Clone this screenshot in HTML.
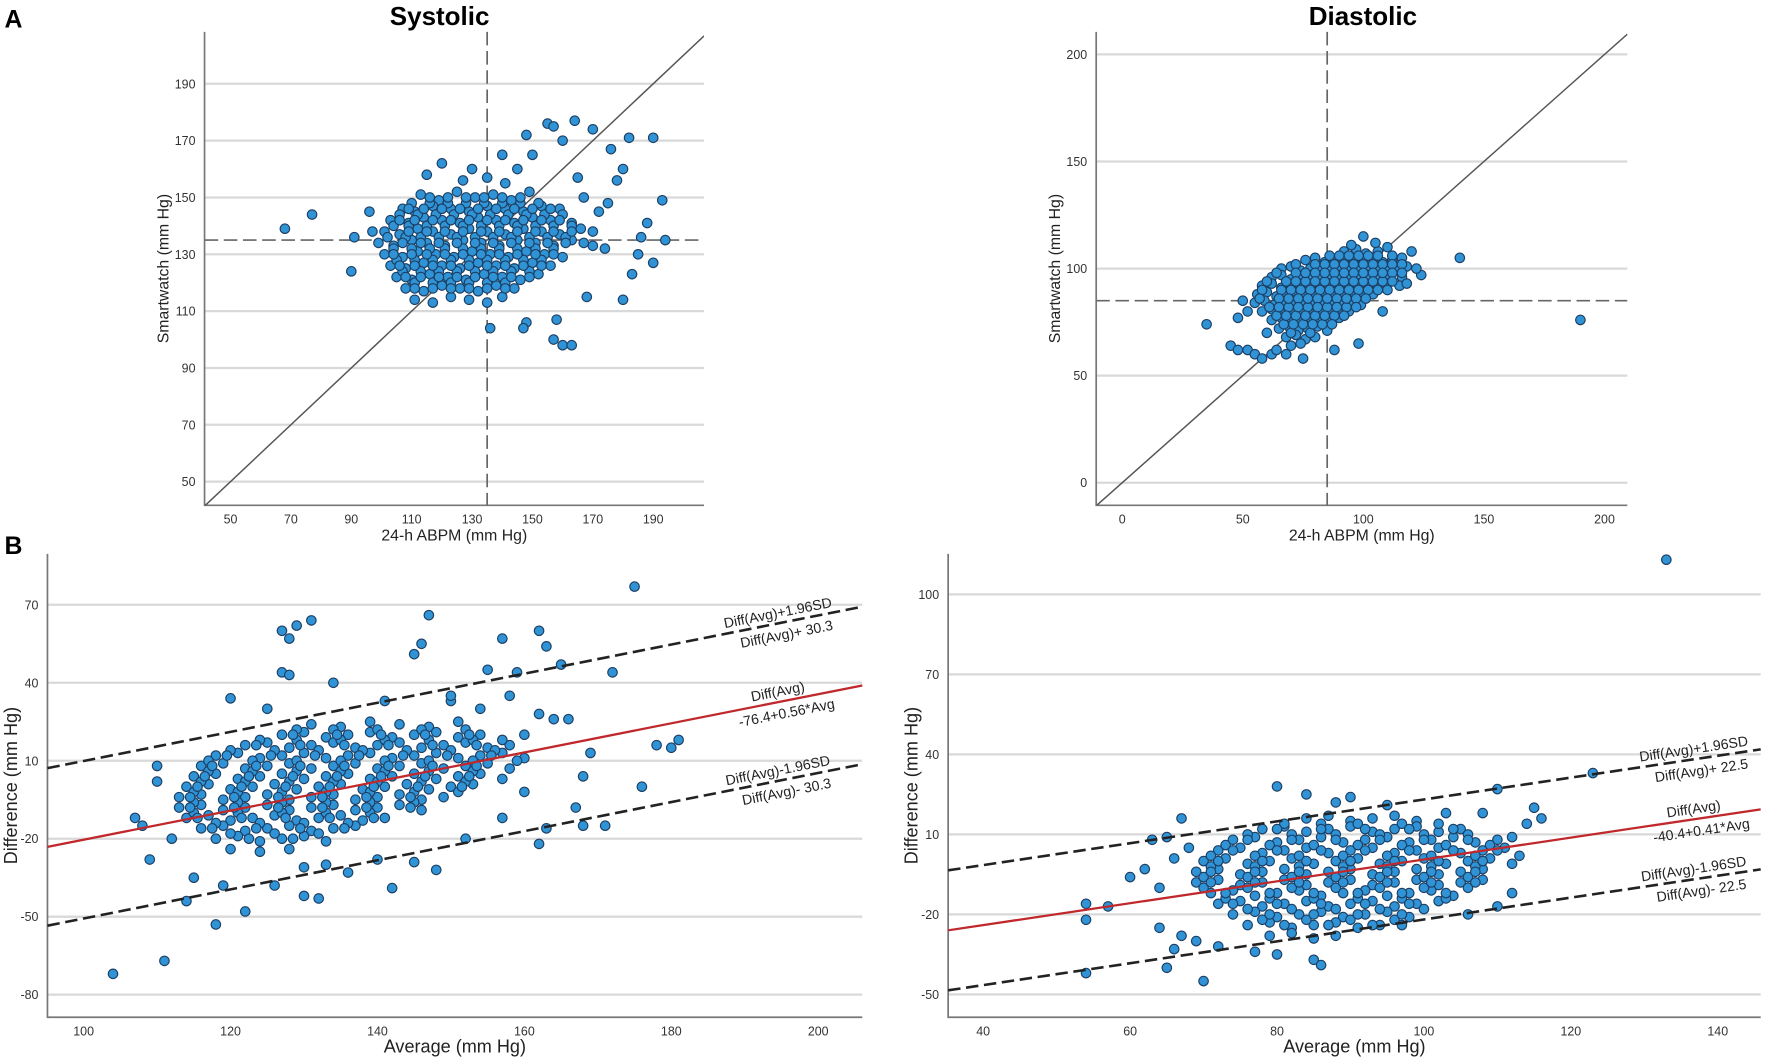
<!DOCTYPE html>
<html><head><meta charset="utf-8"><style>
html,body{margin:0;padding:0;background:#fff;}
svg{display:block;font-family:"Liberation Sans",sans-serif;}
</style></head><body>
<svg id="chart" width="1772" height="1057" viewBox="0 0 1568 935" xmlns="http://www.w3.org/2000/svg">
<text x="4" y="24" font-size="22" font-weight="bold">A</text>
<text x="4" y="490" font-size="22" font-weight="bold">B</text>
<text x="389" y="22" font-size="23" font-weight="bold" text-anchor="middle">Systolic</text>
<text x="1206" y="22" font-size="23" font-weight="bold" text-anchor="middle">Diastolic</text>
</svg>
<script>
const sysPts=[[113,151],[119,149],[125,152],[131,150],[137,151],[143,149],[149,152],[127,156],[135,157],[141,155],
[107,146],[111,145],[117,147],[123,146],[129,145],[135,147],[141,146],[147,145],[153,147],[159,146],
[103,142],[109,141],[114,143],[120,142],[126,141],[132,143],[138,142],[144,141],[150,143],[156,142],[163,141],
[101,138],[106,137],[112,139],[117,138],[123,137],[129,139],[135,138],[141,137],[147,139],[153,138],[159,137],[166,139],
[99,134],[104,133],[110,135],[115,134],[121,133],[127,135],[133,134],[139,133],[145,135],[151,134],[157,133],[163,135],[170,133],
[101,130],[107,129],[112,131],[118,130],[124,129],[130,131],[136,130],[142,129],[148,131],[154,130],[160,129],
[103,126],[108,125],[114,127],[120,126],[126,125],[132,127],[138,126],[144,125],[150,127],[156,126],
[105,122],[110,121],[116,123],[122,122],[128,121],[134,123],[140,122],[146,121],[152,123],
[108,118],[114,117],[120,119],[126,118],[132,117],[138,119],[144,118],
[111,114],[117,113],[123,115],[129,114],[135,113],[140,115],
[110,148],[116,148],[122,148],[128,148],[134,148],[140,148],[146,148],[152,148],
[106,144],[112,144],[118,144],[124,144],[130,144],[136,144],[142,144],[148,144],[154,144],[160,144],
[104,140],[109,140],[115,140],[121,140],[127,140],[133,140],[139,140],[145,140],[151,140],[157,140],[163,140],
[102,136],[108,136],[113,136],[119,136],[125,136],[131,136],[137,136],[143,136],[149,136],[155,136],[161,136],
[104,132],[110,132],[116,132],[121,132],[127,132],[133,132],[139,132],[145,132],[151,132],[157,132],
[105,128],[111,128],[117,128],[123,128],[129,128],[135,128],[141,128],[147,128],[153,128],
[107,124],[113,124],[119,124],[125,124],[131,124],[137,124],[143,124],[149,124],
[111,120],[117,120],[123,120],[129,120],[135,120],[141,120],
[68,139],[77,144],[90,124],[91,136],[96,145],[97,138],[148,172],[150,165],[155,176],[157,175],[160,170],[164,177],[170,174],[176,167],[182,171],[190,171],[180,160],[178,156],[186,136],[190,127],[193,149],[194,135],[185,130],[188,141],[175,148],[172,145],[180,114],[168,115],[160,98],[163,98],[157,100],[148,106],[147,104],[136,104],[158,107],[170,138],[183,123],[174,132],[165,157],[167,150],[140,165],[145,160],[130,160],[120,162],[115,158]];
const sysPtsFill=[[116,150],[122,150],[128,150],[134,150],[140,150],[146,150],
[109,146],[114,146],[120,146],[126,146],[132,146],[138,146],[144,146],[150,146],[156,146],
[106,142],[111,142],[117,142],[123,142],[129,142],[135,142],[141,142],[147,142],[153,142],[159,142],
[109,138],[115,138],[121,138],[127,138],[133,138],[139,138],[145,138],[151,138],[157,138],[163,138],
[107,134],[113,134],[119,134],[125,134],[131,134],[137,134],[143,134],[149,134],[155,134],[161,134],[167,134],
[104,130],[110,130],[115,130],[121,130],[127,130],[133,130],[139,130],[145,130],[151,130],[157,130],
[106,126],[111,126],[117,126],[123,126],[129,126],[135,126],[141,126],[147,126],[153,126],
[108,122],[113,122],[119,122],[125,122],[131,122],[137,122],[143,122],[149,122],
[111,118],[117,118],[123,118],[129,118],[135,118],[141,118]];

const diaPts=[[92,108],[97,109],[101,107],[106,108],[110,110],
[76,104],[80,105],[84,103],[88,104],[92,105],[96,103],[100,104],[104,105],[108,103],[112,104],[116,105],
[66,100],[70,101],[74,99],[78,100],[82,101],[86,99],[90,100],[94,101],[98,99],[102,100],[106,101],[110,99],[114,100],[118,101],
[62,96],[66,97],[70,95],[74,96],[78,97],[82,95],[86,96],[90,97],[94,95],[98,96],[102,97],[106,95],[110,96],[116,96],
[58,92],[62,93],[66,91],[70,92],[74,93],[78,91],[82,92],[86,93],[90,91],[94,92],[98,93],[102,91],[106,92],[110,93],
[56,88],[60,89],[64,87],[68,88],[72,89],[76,87],[80,88],[84,89],[88,87],[92,88],[96,89],[100,87],[104,88],
[55,84],[59,85],[63,83],[67,84],[71,85],[75,83],[79,84],[83,85],[87,83],[91,84],[95,85],[99,83],
[58,80],[62,81],[66,79],[70,80],[74,81],[78,79],[82,80],[86,81],[90,79],[94,80],
[62,76],[66,77],[70,75],[74,76],[78,77],[82,75],[86,76],[90,77],
[65,72],[69,73],[73,71],[77,72],[81,73],[85,71],
[68,68],[72,69],[76,67],[80,68],[70,64],[74,65],
[86,106],[94,106],[102,106],[112,106],
[72,102],[80,102],[88,102],[96,102],[104,102],[112,102],
[64,98],[72,98],[80,98],[88,98],[96,98],[104,98],[112,98],
[60,94],[68,94],[76,94],[84,94],[92,94],[100,94],[108,94],
[58,90],[66,90],[74,90],[82,90],[90,90],[98,90],[106,90],
[57,86],[65,86],[73,86],[81,86],[89,86],[97,86],
[61,82],[69,82],[77,82],[85,82],[93,82],
[64,78],[72,78],[80,78],[88,78],[67,74],[75,74],[83,74],[70,70],[78,70],
[35,74],[45,64],[48,62],[52,62],[55,60],[58,58],[62,60],[190,76],[140,105],[120,108],[124,97],[122,100],[50,85],[52,80],[48,77],[100,115],[105,112],[95,111],[60,70],[64,62],[115,92],[118,93],[98,65],[88,62],[75,58],[68,60],[108,80]];
const diaPtsFill=[[90,106],[98,106],[106,106],[84,102],[92,102],[100,102],[108,102],[116,102],
[76,98],[84,98],[92,98],[100,98],[108,98],[116,98],[72,94],[80,94],[88,94],[96,94],[104,94],[112,94],
[70,90],[78,90],[86,90],[94,90],[102,90],[110,90],[69,86],[77,86],[85,86],[93,86],[101,86],
[65,82],[73,82],[81,82],[89,82],[97,82],[68,78],[76,78],[84,78],[92,78],[71,74],[79,74],[87,74]];

const baSysPts=[[131,24],[135,23],[139,25],[143,24],[147,23],[151,25],
[127,20],[130,21],[133,19],[136,20],[139,21],[142,19],[145,20],[148,21],[151,19],[154,20],
[122,16],[125,17],[128,15],[131,16],[134,17],[137,15],[140,16],[143,17],[146,15],[149,16],[152,17],[155,15],[158,16],
[118,12],[121,13],[124,11],[127,12],[130,13],[133,11],[136,12],[139,13],[142,11],[145,12],[148,13],[151,11],[154,12],[157,13],[160,11],
[116,8],[119,9],[122,7],[125,8],[128,9],[131,7],[134,8],[137,9],[140,7],[143,8],[146,9],[149,7],[152,8],[155,9],[158,7],
[115,4],[118,5],[121,3],[124,4],[127,5],[130,3],[133,4],[136,5],[139,3],[142,4],[145,5],[148,3],[151,4],[154,5],[157,3],
[114,0],[117,1],[120,-1],[123,0],[126,1],[129,-1],[132,0],[135,1],[138,-1],[141,0],[144,1],[147,-1],[150,0],[153,1],
[113,-4],[116,-3],[119,-5],[122,-4],[125,-3],[128,-5],[131,-4],[134,-3],[137,-5],[140,-4],[143,-3],[146,-5],[149,-4],
[113,-8],[116,-7],[119,-9],[122,-8],[125,-7],[128,-9],[131,-8],[134,-7],[137,-9],[140,-8],[143,-7],[146,-9],
[114,-12],[117,-11],[120,-13],[123,-12],[126,-11],[129,-13],[132,-12],[135,-11],[138,-13],[141,-12],
[116,-16],[119,-15],[122,-17],[125,-16],[128,-15],[131,-17],[134,-16],[137,-15],
[118,-20],[121,-19],[124,-21],[127,-20],[130,-19],[133,-21],[120,-24],[124,-25],[128,-24],
[129,22],[134,22],[140,22],[146,22],[152,22],
[124,18],[129,18],[135,18],[141,18],[147,18],[153,18],[157,18],
[120,14],[126,14],[132,14],[138,14],[144,14],[150,14],[156,14],
[117,10],[123,10],[129,10],[135,10],[141,10],[147,10],[153,10],[159,10],
[117,6],[123,6],[129,6],[135,6],[141,6],[147,6],[153,6],
[116,2],[122,2],[128,2],[134,2],[140,2],[146,2],[152,2],
[115,-2],[121,-2],[127,-2],[133,-2],[139,-2],[145,-2],[151,-2],
[115,-6],[121,-6],[127,-6],[133,-6],[139,-6],[145,-6],
[115,-10],[121,-10],[127,-10],[133,-10],[139,-10],
[118,-14],[124,-14],[130,-14],[136,-14],[120,-18],[126,-18],[132,-18],
[104,-72],[111,-67],[114,-44],[118,-53],[122,-48],[130,-42],[107,-12],[109,-28],[110,2],[112,-20],[127,60],[128,57],[129,62],[131,64],[127,44],[128,43],[134,40],[141,33],[145,51],[146,55],[147,66],[150,33],[155,45],[157,57],[162,60],[163,54],[159,44],[165,47],[172,44],[175,77],[178,16],[180,15],[181,18],[176,0],[171,-15],[168,-15],[167,-8],[163,-16],[162,-22],[160,-2],[164,26],[166,26],[169,13],[168,4],[158,35],[154,30],[150,35],[136,-33],[140,-28],[126,-38],[132,-43],[130,-31],[145,-29],[142,-39],[115,-35],[119,-38],[148,-32],[157,-12],[152,-20],[110,8],[108,-15],[120,34],[125,30],[133,-30],[160,20],[162,28]];
const baSysPtsFill=[[128.5,20],[134.5,20],[140.5,20],[146.5,20],[152.5,20],
[123.5,16],[129.5,16],[135.5,16],[141.5,16],[147.5,16],[153.5,16],
[119.5,12],[125.5,12],[131.5,12],[137.5,12],[143.5,12],[149.5,12],[155.5,12],
[117.5,8],[123.5,8],[129.5,8],[135.5,8],[141.5,8],[147.5,8],[153.5,8],
[116.5,4],[122.5,4],[128.5,4],[134.5,4],[140.5,4],[146.5,4],[152.5,4],
[115.5,0],[121.5,0],[127.5,0],[133.5,0],[139.5,0],[145.5,0],[151.5,0],
[114.5,-4],[120.5,-4],[126.5,-4],[132.5,-4],[138.5,-4],[144.5,-4],
[114.5,-8],[120.5,-8],[126.5,-8],[132.5,-8],[138.5,-8],[144.5,-8],
[115.5,-12],[121.5,-12],[127.5,-12],[133.5,-12],[139.5,-12],
[117.5,-16],[123.5,-16],[129.5,-16],[135.5,-16],[122.5,-20],[128.5,-20]];

const baDiaPts=[[84,16],[87,17],[90,15],[93,16],[96,17],[99,15],
[78,12],[81,13],[84,11],[87,12],[90,13],[93,11],[96,12],[99,13],[102,11],[105,12],
[74,8],[77,9],[80,7],[83,8],[86,9],[89,7],[92,8],[95,9],[98,7],[101,8],[104,9],[107,7],[110,8],
[72,4],[75,5],[78,3],[81,4],[84,5],[87,3],[90,4],[93,5],[96,3],[99,4],[102,5],[105,3],[108,4],[111,5],
[70,0],[73,1],[76,-1],[79,0],[82,1],[85,-1],[88,0],[91,1],[94,-1],[97,0],[100,1],[103,-1],[106,0],[109,1],[112,-1],
[69,-4],[72,-3],[75,-5],[78,-4],[81,-3],[84,-5],[87,-4],[90,-3],[93,-5],[96,-4],[99,-3],[102,-5],[105,-4],[108,-3],
[69,-8],[72,-7],[75,-9],[78,-8],[81,-7],[84,-9],[87,-8],[90,-7],[93,-9],[96,-8],[99,-7],[102,-9],[105,-8],[108,-7],
[71,-12],[74,-11],[77,-13],[80,-12],[83,-11],[86,-13],[89,-12],[92,-11],[95,-13],[98,-12],[101,-11],[104,-13],
[72,-16],[75,-15],[78,-17],[81,-16],[84,-15],[87,-17],[90,-16],[93,-15],[96,-17],[99,-16],[102,-15],
[74,-20],[77,-19],[80,-21],[83,-20],[86,-19],[89,-21],[92,-20],[95,-19],[98,-21],
[76,-24],[79,-23],[82,-25],[85,-24],[88,-23],[91,-25],[94,-24],[79,-28],[82,-27],[85,-29],[88,-28],
[81,14],[86,14],[91,14],[97,14],[102,14],
[76,10],[82,10],[88,10],[94,10],[100,10],[106,10],
[73,6],[79,6],[85,6],[91,6],[97,6],[103,6],[109,6],
[71,2],[77,2],[83,2],[89,2],[95,2],[101,2],[107,2],
[71,-2],[77,-2],[83,-2],[89,-2],[95,-2],[101,-2],[107,-2],
[70,-6],[76,-6],[82,-6],[88,-6],[94,-6],[100,-6],[106,-6],
[70,-10],[76,-10],[82,-10],[88,-10],[94,-10],[100,-10],[106,-10],
[73,-14],[79,-14],[85,-14],[91,-14],[97,-14],[103,-14],
[76,-18],[82,-18],[88,-18],[94,-18],[100,-18],[78,-22],[84,-22],[90,-22],[96,-22],
[54,-16],[54,-22],[57,-17],[54,-42],[65,-40],[70,-45],[64,-25],[66,-33],[67,-28],[60,-6],[62,-3],[63,8],[65,9],[66,1],[64,-10],[68,5],[67,16],[85,-37],[86,-39],[80,-35],[77,-34],[123,33],[133,113],[110,27],[115,20],[116,16],[114,14],[112,-12],[110,-17],[106,-20],[97,-24],[90,24],[84,25],[80,28],[88,22],[95,21],[103,18],[108,18],[112,9],[113,2],[69,-30],[72,-32]];
const baDiaPtsFill=[[80,12],[86,12],[92,12],[98,12],[104,12],
[76,8],[82,8],[88,8],[94,8],[100,8],[106,8],
[74,4],[80,4],[86,4],[92,4],[98,4],[104,4],[110,4],
[72,0],[78,0],[84,0],[90,0],[96,0],[102,0],[108,0],
[71,-4],[77,-4],[83,-4],[89,-4],[95,-4],[101,-4],[107,-4],
[71,-8],[77,-8],[83,-8],[89,-8],[95,-8],[101,-8],[107,-8],
[73,-12],[79,-12],[85,-12],[91,-12],[97,-12],[103,-12],
[74,-16],[80,-16],[86,-16],[92,-16],[98,-16],
[79,-20],[85,-20],[91,-20],[97,-20],[81,-24],[87,-24],[93,-24]];

const sysXTicks=[50,70,90,110,130,150,170,190];
const sysYTicks=[50,70,90,110,130,150,170,190];
const diaXTicks=[0,50,100,150,200];
const diaYTicks=[0,50,100,150,200];
const baSysXTicks=[100,120,140,160,180,200];
const baSysYTicks=[-80,-50,-20,10,40,70];
const baDiaXTicks=[40,60,80,100,120,140];
const baDiaYTicks=[-50,-20,10,40,70,100];
const sysMean=[135];
const diaMean=[85];
const baSysFit=[-76.4,0.56,30.3];
const baDiaFit=[-40.4,0.41,22.5];

const NS="http://www.w3.org/2000/svg";
const svg=document.getElementById('chart');
function mk(tag,attrs,parent){const e=document.createElementNS(NS,tag);for(const k in attrs)e.setAttribute(k,attrs[k]);(parent||svg).appendChild(e);return e;}

function panel(c){
  const g=mk('g',{});
  
  
  const X=v=>c.x0px+(v-c.x0v)*c.kx, Y=v=>c.y0px-(v-c.y0v)*c.ky;
  const vx=p=>c.x0v+(p-c.x0px)/c.kx, vy=p=>c.y0v-(p-c.y0px)/c.ky;
  c.yt.forEach(t=>{
    const l=mk('line',{x1:c.L,x2:c.R,y1:Y(t),y2:Y(t),stroke:'#d9d9d9','stroke-width':2},g);
    
    
    const tx=mk('text',{x:c.L-8,y:Y(t)+4,'font-size':11,'text-anchor':'end',fill:'#333'},g);
    
    
    tx.textContent=t;
  });
  c.xt.forEach(t=>{
    const tx=mk('text',{x:X(t),y:c.B+16,'font-size':11,'text-anchor':'middle',fill:'#333'},g);
    
    
    tx.textContent=t;
  });
  const ax=mk('path',{d:`M${c.L},${c.T}V${c.B}H${c.R}`,fill:'none',stroke:'#777','stroke-width':1.5},g);
  
  
  const xl=mk('text',{x:(c.L+c.R)/2,y:c.B+31,'font-size':c.lfs,'text-anchor':'middle',fill:'#222'},g);
  
  
  xl.textContent=c.xlab;
  const yl=mk('text',{x:0,y:0,'font-size':c.lfs,'text-anchor':'middle',fill:'#222',transform:`translate(${c.ylx},${(c.T+c.B)/2}) rotate(-90)`},g);
  
  
  yl.textContent=c.ylab;
  const clip=mk('clipPath',{id:'clip-'+c.name},g);
  mk('rect',{x:c.L,y:c.T-30,width:c.R-c.L,height:c.B-c.T+30},clip);
  const lines=mk('g',{'clip-path':`url(#clip-${c.name})`},g);
  if(c.mean){
    const vl=mk('line',{x1:X(c.mean[0]),x2:X(c.mean[0]),y1:c.T,y2:c.B,stroke:'#666','stroke-width':1.5,'stroke-dasharray':'12,5'},lines);
    
    
    const hl=mk('line',{x1:c.L,x2:c.R,y1:Y(c.mean[0]),y2:Y(c.mean[0]),stroke:'#666','stroke-width':1.5,'stroke-dasharray':'12,5'},lines);
    
    
    const a=Math.max(vx(c.L),vy(c.B)), b=Math.min(vx(c.R),vy(c.T));
    const id=mk('line',{x1:X(a),y1:Y(a),x2:X(b),y2:Y(b),stroke:'#555','stroke-width':1.3},lines);
    
    
  }
  c.pts.forEach(p=>{
    const d=mk('circle',{cx:X(p[0]),cy:Y(p[1]),r:4.2,fill:'#2f93d6',stroke:'#1d3f63','stroke-width':1},g);
    
    
  });
  if(c.fit){
    const a0=vx(c.L), a1=vx(c.R), f=c.fit;
    [[0,'#c0282c','none','regression-line'],[f[2],'#222','11,5','upper-limit-line'],[-f[2],'#222','11,5','lower-limit-line']].forEach(s=>{
      const l=mk('line',{x1:c.L,y1:Y(f[0]+f[1]*a0+s[0]),x2:c.R,y2:Y(f[0]+f[1]*a1+s[0]),stroke:s[1],'stroke-width':s[0]===0?2:2.3,'stroke-dasharray':s[2]},g);
      
      
    });
    const ang=-Math.atan(f[1]*c.ky/c.kx)*180/Math.PI;
    const labs=[[f[2],'Diff(Avg)+1.96SD','Diff(Avg)+ '+f[2]],[0,'Diff(Avg)',f[0]+'+'+f[1]+'*Avg'],[-f[2],'Diff(Avg)-1.96SD','Diff(Avg)- '+f[2]]];
    labs.forEach(s=>{
      const cx=c.labx, cy=Y(f[0]+f[1]*vx(cx)+s[0]);
      const t1=mk('text',{x:0,y:-5,'font-size':12.5,'text-anchor':'middle',fill:'#222',transform:`translate(${cx},${cy}) rotate(${ang})`},g);
      
      
      t1.textContent=s[1];
      const t2=mk('text',{x:4,y:15,'font-size':12.5,'text-anchor':'middle',fill:'#222',transform:`translate(${cx},${cy}) rotate(${ang})`},g);
      
      
      t2.textContent=s[2];
    });
  }
}

panel({name:'systolic-scatter',L:181,R:623,T:28,B:447,x0v:50,x0px:204,kx:2.6715,y0v:50,y0px:426,ky:2.5143,xt:sysXTicks,yt:sysYTicks,pts:sysPts.concat(sysPtsFill),mean:sysMean,xlab:'24-h ABPM (mm Hg)',ylab:'Smartwatch  (mm Hg)',ylx:149,lfs:14});
panel({name:'diastolic-scatter',L:970,R:1440,T:28,B:447,x0v:0,x0px:993,kx:2.134,y0v:0,y0px:427,ky:1.895,xt:diaXTicks,yt:diaYTicks,pts:diaPts.concat(diaPtsFill),mean:diaMean,xlab:'24-h ABPM (mm Hg)',ylab:'Smartwatch  (mm Hg)',ylx:938,lfs:14});
panel({name:'systolic-bland-altman',L:42,R:763,T:490,B:900,x0v:100,x0px:74,kx:6.5,y0v:-80,y0px:880,ky:2.3,xt:baSysXTicks,yt:baSysYTicks,pts:baSysPts.concat(baSysPtsFill),fit:baSysFit,labx:690,xlab:'Average (mm Hg)',ylab:'Difference (mm Hg)',ylx:15,lfs:16});
panel({name:'diastolic-bland-altman',L:839,R:1558,T:490,B:900,x0v:40,x0px:870,kx:6.5,y0v:-20,y0px:809,ky:2.36,xt:baDiaXTicks,yt:baDiaYTicks,pts:baDiaPts.concat(baDiaPtsFill),fit:baDiaFit,labx:1500,xlab:'Average (mm Hg)',ylab:'Difference (mm Hg)',ylx:812,lfs:16});
</script>
</body></html>
